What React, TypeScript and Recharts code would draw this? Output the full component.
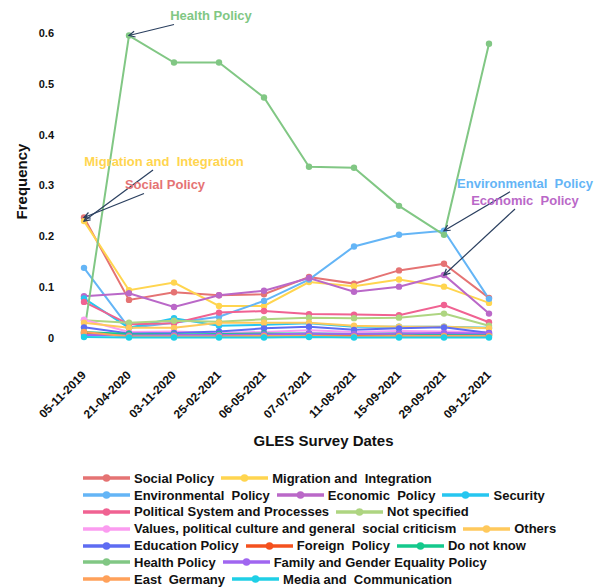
import { LineChart, Line, XAxis, YAxis, ReferenceDot } from 'recharts'

const FONT = '"Liberation Sans", Arial, Helvetica, sans-serif'

// survey waves
const dates = [
  '05-11-2019',
  '21-04-2020',
  '03-11-2020',
  '25-02-2021',
  '06-05-2021',
  '07-07-2021',
  '11-08-2021',
  '15-09-2021',
  '29-09-2021',
  '09-12-2021',
]

// frequency per topic, one value per wave
const socialPolicy = [0.237, 0.075, 0.09, 0.084, 0.086, 0.12, 0.107, 0.133, 0.146, 0.079]
const migration = [0.23, 0.094, 0.109, 0.063, 0.063, 0.11, 0.102, 0.115, 0.101, 0.069]
const environmental = [0.138, 0.02, 0.03, 0.042, 0.073, 0.115, 0.18, 0.203, 0.211, 0.077]
const economic = [0.082, 0.088, 0.061, 0.084, 0.093, 0.118, 0.091, 0.101, 0.124, 0.048]
const security = [0.078, 0.02, 0.039, 0.024, 0.026, 0.029, 0.022, 0.022, 0.022, 0.02]
const politicalSystem = [0.071, 0.027, 0.029, 0.05, 0.053, 0.047, 0.046, 0.045, 0.065, 0.031]
const notSpecified = [0.035, 0.03, 0.034, 0.032, 0.037, 0.04, 0.039, 0.04, 0.048, 0.024]
const valuesCulture = [0.036, 0.012, 0.013, 0.01, 0.012, 0.015, 0.012, 0.014, 0.013, 0.012]
const others = [0.03, 0.02, 0.02, 0.03, 0.03, 0.03, 0.024, 0.022, 0.022, 0.019]
const education = [0.021, 0.009, 0.01, 0.013, 0.019, 0.022, 0.016, 0.019, 0.021, 0.01]
const foreignPolicy = [0.01, 0.004, 0.004, 0.004, 0.005, 0.005, 0.006, 0.005, 0.006, 0.006]
const doNotKnow = [0.012, 0.008, 0.007, 0.008, 0.009, 0.009, 0.008, 0.009, 0.007, 0.006]
const healthPolicy = [0.009, 0.595, 0.542, 0.542, 0.473, 0.337, 0.335, 0.26, 0.203, 0.579]
const familyGender = [0.006, 0.005, 0.006, 0.006, 0.007, 0.009, 0.008, 0.009, 0.01, 0.009]
const eastGermany = [0.012, 0.003, 0.003, 0.003, 0.004, 0.004, 0.003, 0.004, 0.004, 0.004]
const media = [0.002, 0.001, 0.001, 0.001, 0.001, 0.002, 0.001, 0.001, 0.001, 0.001]

const yTicks = [0, 0.1, 0.2, 0.3, 0.4, 0.5, 0.6]

const SERIES = [
  { key: 'social', name: 'Social Policy', color: '#e57373', values: socialPolicy },
  { key: 'migration', name: 'Migration and  Integration', color: '#ffd54f', values: migration },
  { key: 'environmental', name: 'Environmental  Policy', color: '#64b5f6', values: environmental },
  { key: 'economic', name: 'Economic  Policy', color: '#ba68c8', values: economic },
  { key: 'security', name: 'Security', color: '#26c6f0', values: security },
  { key: 'political', name: 'Political System and Processes', color: '#f06292', values: politicalSystem },
  { key: 'notSpecified', name: 'Not specified', color: '#aed581', values: notSpecified },
  { key: 'values', name: 'Values, political culture and general  social criticism', color: '#fb9cf0', values: valuesCulture },
  { key: 'others', name: 'Others', color: '#ffc95c', values: others },
  { key: 'education', name: 'Education Policy', color: '#5e6cf2', values: education },
  { key: 'foreign', name: 'Foreign  Policy', color: '#f4511e', values: foreignPolicy },
  { key: 'doNotKnow', name: 'Do not know', color: '#14c98c', values: doNotKnow },
  { key: 'health', name: 'Health Policy', color: '#81c784', values: healthPolicy },
  { key: 'family', name: 'Family and Gender Equality Policy', color: '#a066f0', values: familyGender },
  { key: 'east', name: 'East  Germany', color: '#ffa15a', values: eastGermany },
  { key: 'media', name: 'Media and  Communication', color: '#1fcfe6', values: media },
]

const chartData = dates.map((date, i) => {
  const row: Record<string, string | number> = { date }
  SERIES.forEach((s) => {
    row[s.key] = s.values[i]
  })
  return row
})

// callouts: arrow tip sits on a data point, tail/text are pixel offsets from it
const ANNOTATIONS = [
  { text: 'Health Policy', color: '#81c784', date: dates[1], value: healthPolicy[1], ax: 45, ay: -11, tx: 82, ty: -20 },
  { text: 'Migration and  Integration', color: '#ffd54f', date: dates[0], value: migration[0], ax: 69, ay: -51, tx: 80, ty: -60 },
  { text: 'Social Policy', color: '#e57373', date: dates[0], value: socialPolicy[0], ax: 60, ay: -24, tx: 81, ty: -33 },
  { text: 'Environmental  Policy', color: '#64b5f6', date: dates[8], value: environmental[8], ax: 66, ay: -39, tx: 81, ty: -47 },
  { text: 'Economic  Policy', color: '#ba68c8', date: dates[8], value: economic[8], ax: 71, ay: -66, tx: 81, ty: -74 },
]

function makeCallout(a: (typeof ANNOTATIONS)[number]) {
  return (props: any) => {
    const { cx, cy } = props
    const x0 = cx + a.ax
    const y0 = cy + a.ay
    const len = Math.hypot(a.ax, a.ay)
    const ux = a.ax / len
    const uy = a.ay / len
    // small open arrow head at the tip
    const hx1 = cx + ux * 6 - uy * 3
    const hy1 = cy + uy * 6 + ux * 3
    const hx2 = cx + ux * 6 + uy * 3
    const hy2 = cy + uy * 6 - ux * 3
    return (
      <g>
        <line x1={x0} y1={y0} x2={cx} y2={cy} stroke="#2a3f5f" strokeWidth={1.2} />
        <polyline points={`${hx1},${hy1} ${cx},${cy} ${hx2},${hy2}`} fill="none" stroke="#2a3f5f" strokeWidth={1.2} />
        <text
          x={cx + a.tx}
          y={cy + a.ty}
          textAnchor="middle"
          dominantBaseline="central"
          fontFamily={FONT}
          fontSize={13}
          fontWeight={700}
          fill={a.color}
          style={{ whiteSpace: 'pre' }}
        >
          {a.text}
        </text>
      </g>
    )
  }
}

function DateTick({ x, y, payload }: any) {
  return (
    <text
      x={x}
      y={y}
      transform={`rotate(-45, ${x}, ${y})`}
      textAnchor="end"
      dominantBaseline="central"
      fontFamily={FONT}
      fontSize={12}
      fontWeight={700}
      fill="#111"
    >
      {payload.value}
    </text>
  )
}

function XTitle(props: any) {
  const vb = props.viewBox || { x: 0, y: 0, width: 0, height: 0 }
  return (
    <text
      x={vb.x + vb.width / 2 + 37}
      y={vb.y + 102}
      textAnchor="middle"
      dominantBaseline="central"
      fontFamily={FONT}
      fontSize={15}
      fontWeight={700}
      fill="#111"
    >
      GLES Survey Dates
    </text>
  )
}

function YTitle(props: any) {
  const vb = props.viewBox || { x: 0, y: 0, width: 0, height: 0 }
  const cx = vb.x + 13
  const cy = vb.y + vb.height / 2 - 4
  return (
    <text
      x={cx}
      y={cy}
      transform={`rotate(-90, ${cx}, ${cy})`}
      textAnchor="middle"
      dominantBaseline="central"
      fontFamily={FONT}
      fontSize={15}
      fontWeight={700}
      fill="#111"
    >
      Frequency
    </text>
  )
}

function ChartLegend() {
  return (
    <div style={{ display: 'flex', flexWrap: 'wrap', marginLeft: 75, width: 506, fontFamily: FONT }}>
      {SERIES.map((s) => (
        <div key={s.key} style={{ display: 'flex', alignItems: 'center', height: 16.8, marginRight: 7 }}>
          <svg width={47} height={10}>
            <line x1={0} y1={5} x2={47} y2={5} stroke={s.color} strokeWidth={3.5} />
            <circle cx={23.5} cy={5} r={3.8} fill={s.color} />
          </svg>
          <span style={{ marginLeft: 4, fontSize: 13, fontWeight: 700, whiteSpace: 'pre', color: '#111' }}>
            {s.name}
          </span>
        </div>
      ))}
    </div>
  )
}

export default function App() {
  return (
    <div style={{ width: 589, padding: '8px 0 0 8px', fontFamily: FONT }}>
      {/* drop the default body margin (re-added as padding) so nothing overflows the page */}
      <style>{'html { overflow: hidden; } body { margin: 0; }'}</style>
      <LineChart width={589} height={462} data={chartData} margin={{ top: 25, right: 108, bottom: 12, left: 0 }}>
        <XAxis
          dataKey="date"
          interval={0}
          axisLine={false}
          tickLine={false}
          tickSize={0}
          tickMargin={35}
          height={120}
          tick={<DateTick />}
          label={(p: any) => <XTitle {...p} />}
        />
        <YAxis
          type="number"
          domain={[0, 0.6]}
          ticks={yTicks}
          width={76}
          axisLine={false}
          tickLine={false}
          tickSize={0}
          tickMargin={30}
          tick={{ fontSize: 11, fontWeight: 700, fill: '#111', fontFamily: FONT }}
          label={(p: any) => <YTitle {...p} />}
        />
        {SERIES.map((s) => (
          <Line
            key={s.key}
            type="linear"
            dataKey={s.key}
            name={s.name}
            stroke={s.color}
            strokeWidth={2}
            dot={{ r: 3.2, fill: s.color, stroke: s.color, strokeWidth: 0 }}
            activeDot={false}
            isAnimationActive={false}
          />
        ))}
        {ANNOTATIONS.map((a) => (
          <ReferenceDot key={a.text} x={a.date} y={a.value} r={0} shape={makeCallout(a)} ifOverflow="visible" />
        ))}
      </LineChart>
      <ChartLegend />
    </div>
  )
}
